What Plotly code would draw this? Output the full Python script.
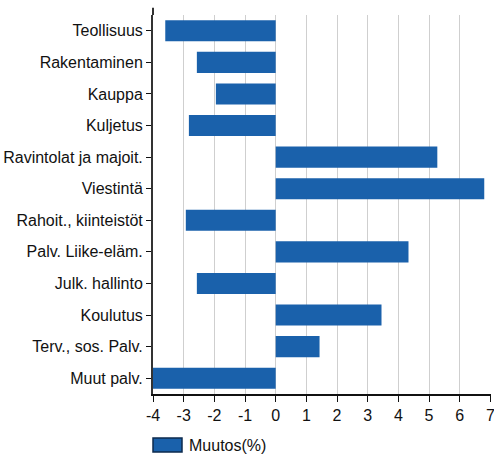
import plotly.graph_objects as go

categories = ["Teollisuus", "Rakentaminen", "Kauppa", "Kuljetus", "Ravintolat ja majoit.",
              "Viestintä", "Rahoit., kiinteistöt", "Palv. Liike-eläm.", "Julk. hallinto",
              "Koulutus", "Terv., sos. Palv.", "Muut palv."]
values = [-3.6, -2.57, -1.95, -2.83, 5.27, 6.8, -2.93, 4.33, -2.57, 3.45, 1.43, -4.0]
x_ticks = [-4, -3, -2, -1, 0, 1, 2, 3, 4, 5, 6, 7]
x_tick_labels = ["-4", "-3", "-2", "-1", "0", "1", "2", "3", "4", "5", "6", "7"]
series_name = "Muutos(%)"

font = "Liberation Sans, Arial, sans-serif"
bar_color = "#1a61ab"

fig = go.Figure()
fig.add_trace(go.Bar(
    x=values, y=categories, orientation="h", name=series_name,
    marker=dict(color=bar_color, line=dict(width=0)),
    showlegend=False, hoverinfo="x+y",
))
# legend drawn as box + text
fig.add_shape(type="rect", xref="paper", yref="paper",
              x0=0.0, x1=0.0858, y0=-0.153, y1=-0.116,
              fillcolor=bar_color, line=dict(color="#0d2a4d", width=1.5))
fig.add_annotation(text=series_name, xref="paper", yref="paper", x=0.102, y=-0.136,
                   xanchor="left", yanchor="middle", showarrow=False,
                   font=dict(size=16, color="#111"))
# y-axis line extends slightly above plot area
fig.add_shape(type="line", xref="paper", yref="paper", x0=0, x1=0, y0=1, y1=1.019,
              line=dict(color="#333", width=2))
fig.update_layout(
    width=494, height=455,
    margin=dict(l=153, r=3, t=15, b=61),
    paper_bgcolor="white", plot_bgcolor="white",
    font=dict(family=font, size=16, color="#111"),
    bargap=0.33,
    xaxis=dict(range=[-4, 7.02], tickvals=x_ticks, ticktext=x_tick_labels, showgrid=True,
               gridcolor="#cfcfcf", gridwidth=1, zeroline=False, showline=True,
               linecolor="#111", linewidth=2, automargin=False, ticklabeloverflow="allow",
               ticks="outside", ticklen=6, tickcolor="#111", tickwidth=1,
               tickfont=dict(size=16)),
    yaxis=dict(autorange="reversed", showline=True, linecolor="#333", linewidth=2,
               ticks="outside", ticklen=5, tickcolor="#111", showgrid=False,
               automargin=False, tickfont=dict(size=16), ticklabelstandoff=0),
)
fig.write_html("out.html", config={"displayModeBar": False},
               post_script="document.body.style.margin='0';document.body.style.overflow='hidden';")
